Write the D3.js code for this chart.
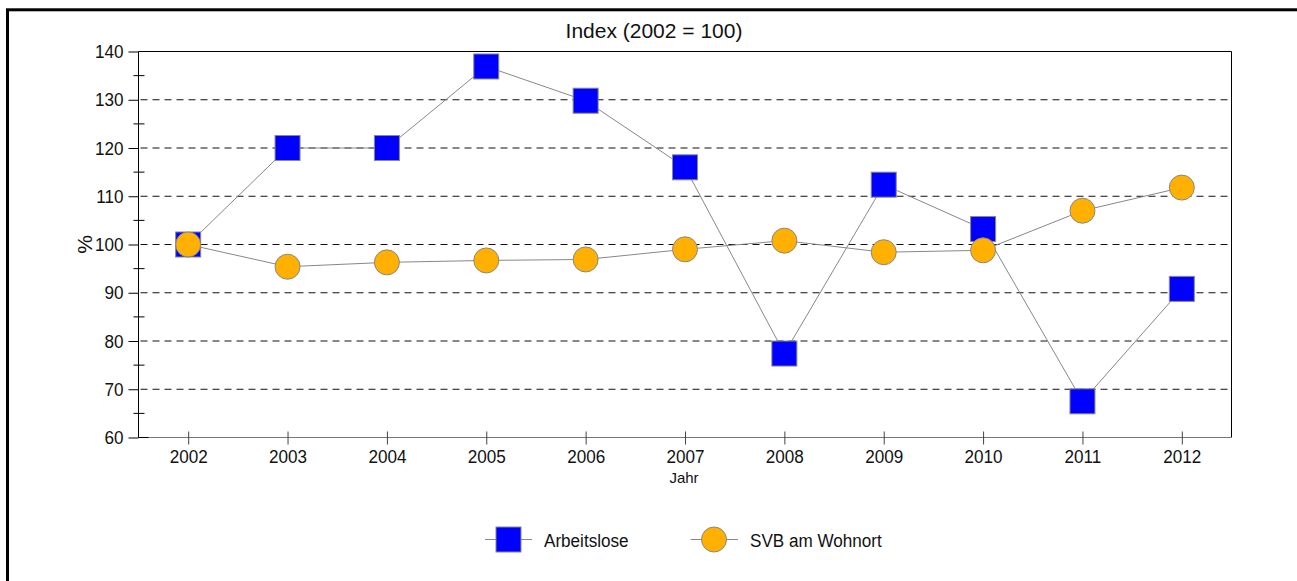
<!DOCTYPE html>
<html><head><meta charset="utf-8">
<script src="https://cdn.jsdelivr.net/npm/d3@7"></script>
<style>
body{margin:0;background:#fff;}
svg{display:block;}
text{font-family:"Liberation Sans",Arial,sans-serif;}
</style></head>
<body>
<svg id="chart" width="1297" height="581"></svg>
<script>
const years = ["2002","2003","2004","2005","2006","2007","2008","2009","2010","2011","2012"];
const arbeitslose = [100, 120, 120, 136.9, 129.8, 116, 77.4, 112.4, 103.2, 67.5, 90.8];
const svb = [100, 95.4, 96.3, 96.7, 96.9, 99.0, 100.8, 98.4, 98.8, 107.0, 111.8];
const yMajorTicks = [60,70,80,90,100,110,120,130,140];
const yMinorTicks = [65,75,85,95,105,115,125,135];
const gridTicks = [70,80,90,100,110,120,130];
const seriesNames = ["Arbeitslose","SVB am Wohnort"];
const titleText = "Index (2002 = 100)";
const xTitle = "Jahr";
const yTitle = "%";

const NARROW = 0.9;
const svg = d3.select("#chart");
const L = 138.5, R = 1231.5, T = 51.5, B = 437.5;
const x = d3.scalePoint().domain(years).range([L, R]).padding(0.5);
const y = d3.scaleLinear().domain([60,140]).range([B, T]);

// outer frame
svg.append("rect").attr("x",7.5).attr("y",9.8).attr("width",1300).attr("height",600)
  .attr("fill","none").attr("stroke","#000").attr("stroke-width",3);

// title
svg.append("text").attr("x",654).attr("y",38).attr("text-anchor","middle")
  .attr("font-size",21).attr("fill","#111").text(titleText);

// grid
svg.append("g").selectAll("line").data(gridTicks).join("line")
  .attr("x1",L+2).attr("x2",R).attr("y1",d=>y(d)).attr("y2",d=>y(d))
  .attr("stroke","#111").attr("stroke-width",1).attr("stroke-dasharray","7,5");

// plot top & right border
svg.append("line").attr("x1",L).attr("x2",R).attr("y1",y(140)).attr("y2",y(140)).attr("stroke","#000");
svg.append("line").attr("x1",R).attr("x2",R).attr("y1",y(140)).attr("y2",B).attr("stroke","#000");

// x axis
const xAxis = d3.axisBottom(x).tickSize(0).tickPadding(12);
const gx = svg.append("g").attr("transform",`translate(0,${B})`).call(xAxis);
gx.select(".domain").attr("stroke","#777").attr("d",`M${L},0H${R}`);
gx.selectAll(".tick text").attr("font-family",null).attr("font-size",19).attr("fill","#111")
  .attr("transform",`scale(${NARROW},1)`);
gx.selectAll(".tick").append("line").attr("y1",-6).attr("y2",7).attr("stroke","#444");
svg.append("line").attr("x1",L).attr("x2",L+10).attr("y1",B).attr("y2",B).attr("stroke","#000");

// y axis
const yAxis = d3.axisLeft(y).tickValues(yMajorTicks).tickSize(10).tickPadding(3);
const gy = svg.append("g").attr("transform",`translate(${L},0)`).call(yAxis);
gy.select(".domain").attr("stroke","#000").attr("d",`M0,${T}V${B}`);
gy.selectAll(".tick line").attr("stroke","#000");
gy.selectAll(".tick text").attr("font-size",19).attr("fill","#111")
  .attr("x",-15/NARROW).attr("transform",`scale(${NARROW},1)`);
svg.append("g").selectAll("line").data(yMinorTicks).join("line")
  .attr("x1",L-5).attr("x2",L+6).attr("y1",d=>y(d)).attr("y2",d=>y(d)).attr("stroke","#000");

// axis titles
svg.append("text").attr("x",684).attr("y",483).attr("text-anchor","middle")
  .attr("font-size",15).attr("fill","#111").text(xTitle);
svg.append("text").attr("transform",`translate(92,${y(100)}) rotate(-90)`)
  .attr("text-anchor","middle").attr("font-size",21).attr("fill","#111").text(yTitle);

const line = d3.line().x((d,i)=>x(years[i])).y(d=>y(d));
const S = 25;
// Arbeitslose
svg.append("path").datum(arbeitslose).attr("d",line).attr("fill","none").attr("stroke","#888").attr("stroke-width",1);
svg.append("g").selectAll("rect").data(arbeitslose).join("rect")
  .attr("x",(d,i)=>x(years[i])-S/2).attr("y",d=>y(d)-S/2).attr("width",S).attr("height",S)
  .attr("fill","#0000ff").attr("stroke","#888").attr("stroke-width",1);
// SVB
svg.append("path").datum(svb).attr("d",line).attr("fill","none").attr("stroke","#888").attr("stroke-width",1);
svg.append("g").selectAll("circle").data(svb).join("circle")
  .attr("cx",(d,i)=>x(years[i])).attr("cy",d=>y(d)).attr("r",12.5)
  .attr("fill","#ffb000").attr("stroke","#888").attr("stroke-width",1);

// legend
const ly = 539.5;
const lg = svg.append("g");
lg.append("line").attr("x1",485).attr("x2",532).attr("y1",ly).attr("y2",ly).attr("stroke","#888");
lg.append("rect").attr("x",508.5-S/2).attr("y",ly-S/2).attr("width",S).attr("height",S)
  .attr("fill","#0000ff").attr("stroke","#888");
lg.append("text").attr("transform",`translate(544,${ly+7}) scale(${NARROW},1)`)
  .attr("font-size",19).attr("fill","#111").text(seriesNames[0]);
lg.append("line").attr("x1",690.5).attr("x2",738).attr("y1",ly).attr("y2",ly).attr("stroke","#888");
lg.append("circle").attr("cx",714).attr("cy",ly).attr("r",12.5).attr("fill","#ffb000").attr("stroke","#888");
lg.append("text").attr("transform",`translate(750,${ly+7}) scale(${NARROW},1)`)
  .attr("font-size",19).attr("fill","#111").text(seriesNames[1]);
</script>
</body></html>
